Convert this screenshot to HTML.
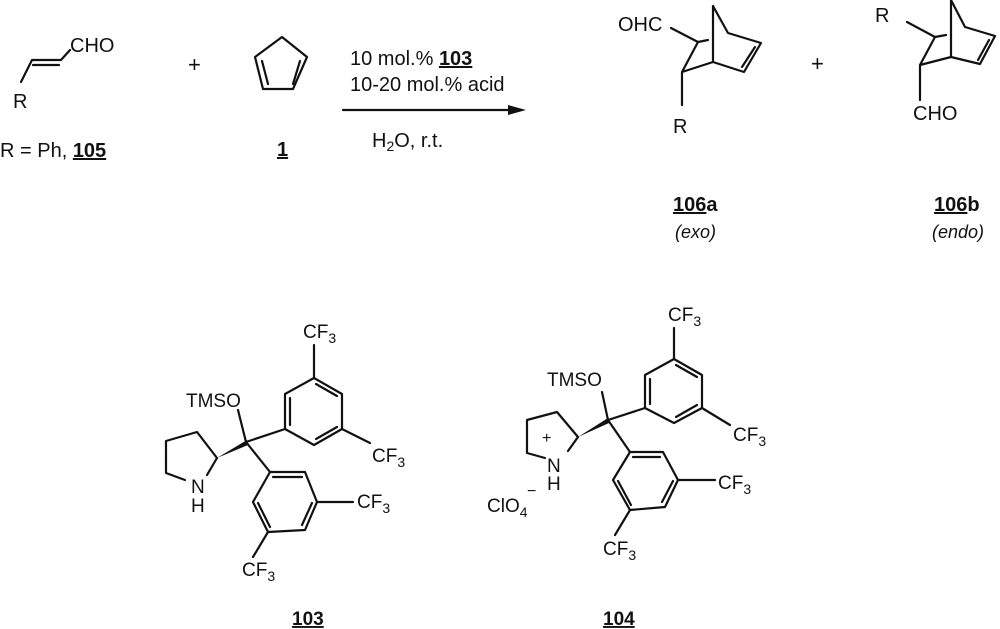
<!DOCTYPE html>
<html><head><meta charset="utf-8"><style>
html,body{margin:0;padding:0;background:#fff;}
svg{display:block;}
text{font-family:"Liberation Sans",sans-serif;fill:#111;}
</style></head><body>
<svg width="1000" height="629" viewBox="0 0 1000 629" xmlns="http://www.w3.org/2000/svg">
<g stroke="#111" stroke-width="2.2" fill="none" stroke-linecap="round" stroke-linejoin="round">
<!-- cinnamaldehyde -->
<path d="M21,82 L32,60 L61,60 L70,50"/>
<path d="M33,65 L59,65"/>
<!-- cyclopentadiene -->
<path d="M282,37 L255,57 L263,89 L293,89 L307,57 Z"/>
<path d="M262,61 L268,84 M300,61 L293,84"/>
<!-- arrow -->
<path d="M343,110 L514,110"/>
<!-- 106a -->
<path d="M671,28 L698,42 L708,40 M713,6 L713,62 M713,6 L728,33 L761,43 L744,72 L713,62 M698,42 L682,72 L713,62 M682,72 L682,105"/>
<path d="M755,47 L742,67"/>
<!-- 106b -->
<path d="M907,22 L935,37 L946,35 M951,0 L951,57 M951,0 L965,27 L995,36 L980,64 L951,57 M935,37 L920,65 L951,57 M920,65 L920,100"/>
<path d="M989,40 L978,60"/>
<!-- 103 -->
<path d="M314,345 L314,378"/>
<path d="M314,378 L342,394 L342,429 L314,445 L285,429 L285,394 Z"/>
<path d="M290,398 L290,425 M316,384 L337,396 M316,439 L337,427"/>
<path d="M342,429 L370,443"/>
<path d="M246,442 L285,429 M246,442 L238,410 M246,442 L270,472"/>
<path d="M270,472 L305,472 L317,502 L305,530 L268,532 L253,502 Z"/>
<path d="M273,477 L302,477 M258,503 L270,527 M312,503 L302,525"/>
<path d="M317,502 L353,502 M268,532 L253,557"/>
<path d="M217,458 L197,432 L166,441 L166,473 L185,480 M217,458 L207,475"/>
<!-- 104 -->
<path d="M674,328 L674,359"/>
<path d="M674,359 L702,375 L702,408 L674,423 L645,408 L645,375 Z"/>
<path d="M650,379 L650,404 M676,365 L697,377 M676,417 L697,405"/>
<path d="M702,408 L730,425"/>
<path d="M608,420 L645,408 M608,420 L602,392 M608,420 L630,452"/>
<path d="M630,452 L663,452 L678,480 L665,507 L630,510 L613,480 Z"/>
<path d="M633,457 L660,457 M618,481 L631,505 M673,481 L662,502"/>
<path d="M678,480 L715,480 M630,510 L615,535"/>
<path d="M578,437 L557,412 L527,420 L527,453 L545,458 M578,437 L568,451"/>
</g>
<polygon points="508,105 526,110 508,115" fill="#111"/>
<polygon points="217,458 247,440 248,445" fill="#111"/>
<polygon points="578,437 608,418 609,423" fill="#111"/>

<g font-size="20">
<text x="70" y="52">CHO</text>
<text x="13" y="108">R</text>
<text x="0" y="157">R = Ph, <tspan font-weight="bold" text-decoration="underline">105</tspan></text>
<text x="188" y="72" font-size="22">+</text>
<text x="277" y="156" font-weight="bold" text-decoration="underline">1</text>
<text x="350" y="65">10 mol.% <tspan font-weight="bold" text-decoration="underline">103</tspan></text>
<text x="350" y="91">10-20 mol.% acid</text>
<text x="372" y="147">H<tspan font-size="14" dy="4">2</tspan><tspan dy="-4">O, r.t.</tspan></text>
<text x="618" y="31">OHC</text>
<text x="673" y="133">R</text>
<text x="811" y="71" font-size="22">+</text>
<text x="875" y="22">R</text>
<text x="913" y="120">CHO</text>
<text x="673" y="211" font-weight="bold"><tspan text-decoration="underline">106</tspan>a</text>
<text x="675" y="238" font-style="italic" font-size="18">(exo)</text>
<text x="934" y="211" font-weight="bold"><tspan text-decoration="underline">106</tspan>b</text>
<text x="932" y="238" font-style="italic" font-size="18">(endo)</text>
</g>
<g font-size="19">
<text x="303" y="338">CF<tspan font-size="14" dy="5">3</tspan></text>
<text x="372" y="462">CF<tspan font-size="14" dy="5">3</tspan></text>
<text x="357" y="508">CF<tspan font-size="14" dy="5">3</tspan></text>
<text x="242" y="576">CF<tspan font-size="14" dy="5">3</tspan></text>
<text x="186" y="407">TMSO</text>
<text x="191" y="493">N</text>
<text x="191" y="512">H</text>
<text x="292" y="625" font-weight="bold" text-decoration="underline">103</text>

<text x="668" y="321">CF<tspan font-size="14" dy="5">3</tspan></text>
<text x="733" y="441">CF<tspan font-size="14" dy="5">3</tspan></text>
<text x="718" y="489">CF<tspan font-size="14" dy="5">3</tspan></text>
<text x="603" y="555">CF<tspan font-size="14" dy="5">3</tspan></text>
<text x="547" y="386">TMSO</text>
<text x="542" y="443" font-size="16">+</text>
<text x="547" y="472">N</text>
<text x="547" y="490">H</text>
<text x="487" y="512">ClO<tspan font-size="14" dy="5">4</tspan></text>
<text x="527" y="496" font-size="16">−</text>
<text x="603" y="625" font-weight="bold" text-decoration="underline">104</text>
</g>
</svg>
</body></html>
